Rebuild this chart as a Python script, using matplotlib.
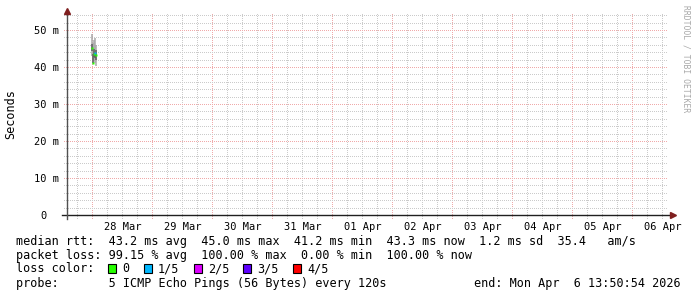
import numpy as np
import matplotlib
matplotlib.use("Agg")
import matplotlib.pyplot as plt
import matplotlib.dates as mdates
from matplotlib.patches import Rectangle
from matplotlib.transforms import ScaledTranslation
from datetime import datetime, timedelta

plt.rcParams['font.family'] = ['DejaVu Sans Mono']

# ---- data ----
t_start = datetime(2026, 3, 27, 13, 50, 54)
t_end = datetime(2026, 4, 6, 13, 50, 54)

ping_times = ["2026-03-27 23:50", "2026-03-28 00:14", "2026-03-28 00:38",
              "2026-03-28 01:02", "2026-03-28 01:26"]
# 5 pings per step, ms (nan = lost)
pings = [
    [43.0, 44.2, 45.0, 46.3, 48.9],
    [40.8, 41.2, 41.2, 43.5, 46.5],
    [41.5, 42.6, 43.4, 44.8, 47.2],
    [41.0, 42.5, 43.8, 47.8, np.nan],
    [40.3, 42.0, 43.3, 44.5, 46.0],
]
medians = [45.0, 41.2, 43.4, 43.8, 43.3]
lost = [0, 0, 0, 1, 0]

loss_labels = ["0", "1/5", "2/5", "3/5", "4/5"]
loss_colors = ['#26ff00', '#00b8ff', '#dd00ff', '#5e00ff', '#ff0000']

ytick_vals = [0, 10, 20, 30, 40, 50]
ytick_labels = ["0", "10 m", "20 m", "30 m", "40 m", "50 m"]

legend_lines = [
    "median rtt:  43.2 ms avg  45.0 ms max  41.2 ms min  43.3 ms now  1.2 ms sd  35.4   am/s",
    "packet loss: 99.15 % avg  100.00 % max  0.00 % min  100.00 % now",
]
probe_text = "probe:       5 ICMP Echo Pings (56 Bytes) every 120s"
end_text = "end: Mon Apr  6 13:50:54 2026"

# ---- figure ----
W, H = 697, 297
fig = plt.figure(figsize=(W / 100, H / 100), dpi=100)
fig.patch.set_facecolor('white')

def fx(x):
    return x / W

def fy(y):
    return 1 - y / H

L, R, T, B = 67, 667, 13, 215
ax = fig.add_axes([fx(L), fy(B), (R - L) / W, (B - T) / H])
ax.set_xlim(mdates.date2num(t_start), mdates.date2num(t_end))
ax.set_ylim(0, (B - T) / 3.7)
for s in ax.spines.values():
    s.set_visible(False)

# grid: 1px dots every 2px
grid_c = '#cbcbcb'
mgrid_c = '#f0aaaa'
dots = (0, (0.5, 1.5))
ext_x = 3 / (R - L)
ext_y = 3 / (B - T)
t = datetime(2026, 3, 27, 18, 0)
while t < t_end:
    major = t.hour == 0
    ax.vlines(mdates.date2num(t), -ext_y, 1, transform=ax.get_xaxis_transform(),
              colors=mgrid_c if major else grid_c, lw=0.72, linestyles=dots,
              antialiaseds=False, clip_on=False, zorder=1)
    t += timedelta(hours=6)
for v in np.arange(2, 55, 2):
    major = v % 10 == 0
    ax.hlines(v, -ext_x, 1, transform=ax.get_yaxis_transform(),
              colors=mgrid_c if major else grid_c, lw=0.72, linestyles=dots,
              antialiaseds=False, clip_on=False, zorder=1)

# smoke + medians
tx = mdates.datestr2num(ping_times)
for x, p, m, l in zip(tx, pings, medians, lost):
    p = np.sort(np.array(p)[~np.isnan(p)])
    ax.vlines(x, p[0], p[-1], colors='#a8a8a8', lw=1.1, zorder=3)
    ax.vlines(x, p[1], p[-2], colors='#606060', lw=1.1, zorder=4)
    ax.plot(x, m, marker='s', ms=1.9, mec='none', color=loss_colors[l], zorder=5)

# axes lines + arrows
ax.plot([-5 / (R - L), 1.005], [0, 0], transform=ax.transAxes, color='#202020',
        lw=1.0, clip_on=False, zorder=6)
ax.plot([0, 0], [-4 / (B - T), 1.0], transform=ax.transAxes, color='#505050',
        lw=1.0, clip_on=False, zorder=6)
ax.plot(1.01, 0, marker='>', ms=4.5, color='#7f1f1f', mec='#7f1f1f',
        transform=ax.transAxes, clip_on=False, zorder=7)
ax.plot(0, 1.01, marker='^', ms=4.5, color='#7f1f1f', mec='#7f1f1f',
        transform=ax.transAxes, clip_on=False, zorder=7)

# ticks
noons = [datetime(2026, 3, 28, 12) + timedelta(days=i) for i in range(10)]
ax.set_xticks(mdates.date2num(noons))
ax.set_xticklabels([d.strftime("%d %b") for d in noons])
ax.set_yticks(ytick_vals)
ax.set_yticklabels(ytick_labels)
ax.tick_params(axis='both', length=0, labelsize=7.5, labelcolor='black')
ax.tick_params(axis='x', pad=5)
ax.tick_params(axis='y', pad=5.5)
cw_axis = 0.602 * 7.5 / 72
for lab in ax.get_yticklabels():
    if lab.get_text() == "0":
        lab.set_transform(lab.get_transform() +
                          ScaledTranslation(-2 * cw_axis, 0, fig.dpi_scale_trans))

# y label
fig.text(fx(11), fy(114), "Seconds", rotation=90, ha='center', va='center',
         fontsize=8.5)

# watermark
fig.text(fx(686), fy(5), "RRDTOOL / TOBI OETIKER", rotation=-90, ha='center',
         va='top', fontsize=5.8, color='#a8a8a8')

# legend
fs = 8.5
cw = 0.602 * fs / 72 * 100
x0 = 16
fig.text(fx(x0), fy(241), legend_lines[0], ha='left', va='center', fontsize=fs)
fig.text(fx(x0), fy(255), legend_lines[1], ha='left', va='center', fontsize=fs)
fig.text(fx(x0), fy(268.5), "loss color:", ha='left', va='center', fontsize=fs)
col = 13
for lab, c in zip(loss_labels, loss_colors):
    bx = x0 + col * cw
    fig.patches.append(Rectangle((fx(bx), fy(273)), 8 / W, 9 / H, transform=fig.transFigure,
                                 facecolor=c, edgecolor='black', lw=0.8))
    fig.text(fx(x0 + (col + 2) * cw), fy(268.5), lab, ha='left', va='center', fontsize=fs)
    col += 2 + len(lab) + 2
fig.text(fx(x0), fy(283), probe_text, ha='left', va='center', fontsize=fs)
fig.text(fx(681), fy(283), end_text, ha='right', va='center', fontsize=fs)

fig.savefig("out.png", dpi=100, facecolor='white')
